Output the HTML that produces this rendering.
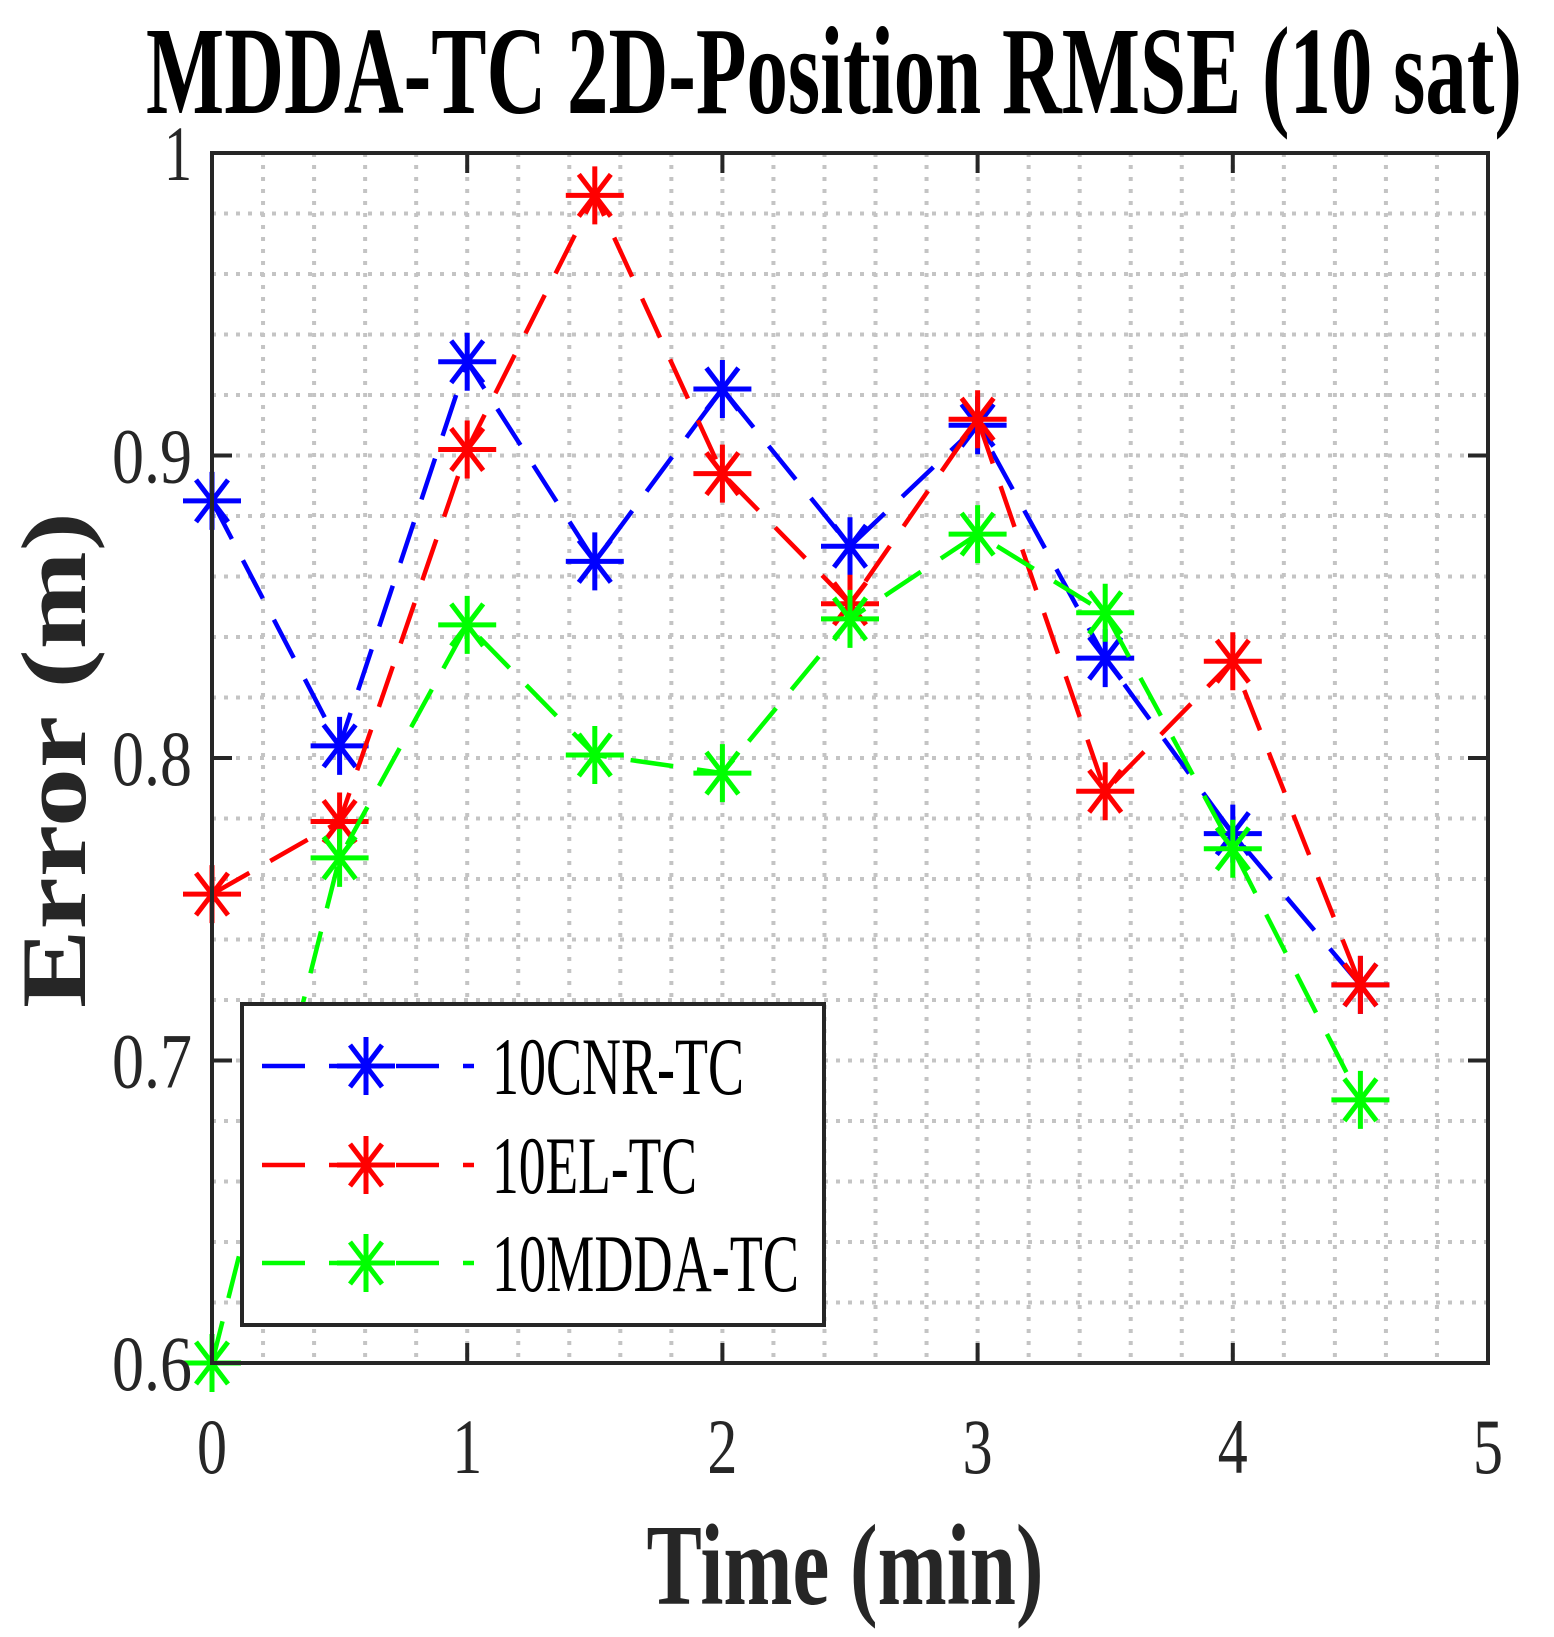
<!DOCTYPE html>
<html><head><meta charset="utf-8"><style>
html,body{margin:0;padding:0;background:#fff;}
svg{display:block;}
text{font-family:"Liberation Serif","Times New Roman",serif;}
</style></head><body>
<svg id="chart" width="1554" height="1637" viewBox="0 0 1554 1637" xmlns="http://www.w3.org/2000/svg">
<rect x="0" y="0" width="1554" height="1637" fill="#fff"/>
<text x="834" y="113" font-size="125" font-weight="bold" text-anchor="middle" textLength="1376" lengthAdjust="spacingAndGlyphs">MDDA-TC 2D-Position RMSE (10 sat)</text>
<g id="grid"></g>
<g id="series"></g>
<rect x="212" y="153" width="1276" height="1210" fill="none" stroke="#262626" stroke-width="4"/>
<g id="ticks"></g>
<text x="845" y="1604" font-size="115" font-weight="bold" text-anchor="middle" textLength="397" lengthAdjust="spacingAndGlyphs" fill="#262626">Time (min)</text>
<text transform="translate(85,760) rotate(-90)" font-size="92" font-weight="bold" text-anchor="middle" textLength="496" lengthAdjust="spacingAndGlyphs" fill="#262626">Error (m)</text>
<g id="legend">
<rect x="242" y="1004" width="582" height="321" fill="#fff" stroke="#262626" stroke-width="4"/>
</g>
</svg>
<script>
const xs = [0, 0.5, 1, 1.5, 2, 2.5, 3, 3.5, 4, 4.5];
const cnrValues = [0.885, 0.804, 0.931, 0.865, 0.922, 0.870, 0.910, 0.833, 0.775, 0.725];
const elValues = [0.755, 0.779, 0.902, 0.986, 0.894, 0.851, 0.912, 0.789, 0.832, 0.725];
const mddaValues = [0.600, 0.767, 0.844, 0.801, 0.795, 0.846, 0.874, 0.848, 0.770, 0.687];
const seriesNames = ["10CNR-TC", "10EL-TC", "10MDDA-TC"];
const xTickLabels = ["0", "1", "2", "3", "4", "5"];
const yTickLabels = ["0.6", "0.7", "0.8", "0.9", "1"];

const NS = "http://www.w3.org/2000/svg";
const L = 212, R = 1488, T = 153, B = 1363;
const xMin = 0, xMax = 5, yMin = 0.6, yMax = 1.0;
function xs2px(v){ return L + (v - xMin) / (xMax - xMin) * (R - L); }
function ys2px(v){ return B - (v - yMin) / (yMax - yMin) * (B - T); }
function mk(tag, attrs, parent){ const e = document.createElementNS(NS, tag); for (const k in attrs) e.setAttribute(k, attrs[k]); parent.appendChild(e); return e; }

const grid = document.getElementById('grid');
for (let i = 1; i < 25; i++) {
  const x = xs2px(i * 0.2);
  const g = mk('line', {x1:x, y1:T, x2:x, y2:B, stroke:'#c4c4c4', 'stroke-width':4, 'stroke-dasharray':'4 8'}, grid);
  
  
}
for (let i = 1; i < 20; i++) {
  const y = ys2px(0.6 + i * 0.02);
  const g = mk('line', {x1:L, y1:y, x2:R, y2:y, stroke:'#c4c4c4', 'stroke-width':4, 'stroke-dasharray':'4 8'}, grid);
  
  
}

const ticks = document.getElementById('ticks');
xTickLabels.forEach((lab, i) => {
  const x = xs2px(Number(lab));
  mk('line', {x1:x, y1:B, x2:x, y2:B-20, stroke:'#262626', 'stroke-width':4}, ticks);
  mk('line', {x1:x, y1:T, x2:x, y2:T+20, stroke:'#262626', 'stroke-width':4}, ticks);
  const t = mk('text', {x:x, y:1473, 'font-size':78, 'text-anchor':'middle', fill:'#262626', textLength:30, lengthAdjust:'spacingAndGlyphs'}, ticks);
  t.textContent = lab;
  
  
});
yTickLabels.forEach((lab, i) => {
  const y = ys2px(Number(lab));
  mk('line', {x1:L, y1:y, x2:L+20, y2:y, stroke:'#262626', 'stroke-width':4}, ticks);
  mk('line', {x1:R, y1:y, x2:R-20, y2:y, stroke:'#262626', 'stroke-width':4}, ticks);
  const w = lab.length === 1 ? 28 : 80;
  const t = mk('text', {x:192, y:y+27, 'font-size':78, 'text-anchor':'end', fill:'#262626', textLength:w, lengthAdjust:'spacingAndGlyphs'}, ticks);
  t.textContent = lab;
  
  
});

function star(parent, cx, cy, color){
  const r = 29, dx = 16, dy = 21;
  const g = mk('g', {stroke:color, 'stroke-width':5}, parent);
  mk('line', {x1:cx-r, y1:cy, x2:cx+r, y2:cy}, g);
  mk('line', {x1:cx, y1:cy-r, x2:cx, y2:cy+r}, g);
  mk('line', {x1:cx-dx, y1:cy-dy, x2:cx+dx, y2:cy+dy}, g);
  mk('line', {x1:cx+dx, y1:cy-dy, x2:cx-dx, y2:cy+dy}, g);
  return g;
}

const seriesLayer = document.getElementById('series');
const allSeries = [cnrValues, elValues, mddaValues];
const colors = ['#0000ff', '#ff0000', '#00ff00'];
allSeries.forEach((vals, si) => {
  const pts = vals.map((v, i) => xs2px(xs[i]) + ',' + ys2px(v)).join(' ');
  const pl = mk('polyline', {points:pts, fill:'none', stroke:colors[si], 'stroke-width':4.5, 'stroke-dasharray':'43 24'}, seriesLayer);
  
  
  vals.forEach((v, i) => {
    const m = star(seriesLayer, xs2px(xs[i]), ys2px(v), colors[si]);
    
    
  });
});

const legend = document.getElementById('legend');
const rowsY = [1066, 1165, 1263];
const textW = [252, 205, 307];
seriesNames.forEach((name, i) => {
  const y = rowsY[i];
  const g = mk('g', {}, legend);
  
  
  mk('line', {x1:262, y1:y, x2:474, y2:y, stroke:colors[i], 'stroke-width':4.5, 'stroke-dasharray':'43 24'}, g);
  star(g, 366, y, colors[i]);
  const t = mk('text', {x:492, y:y+28, 'font-size':82, fill:'#000', textLength:textW[i], lengthAdjust:'spacingAndGlyphs'}, g);
  t.textContent = name;
  
  
});
</script>
</body></html>
